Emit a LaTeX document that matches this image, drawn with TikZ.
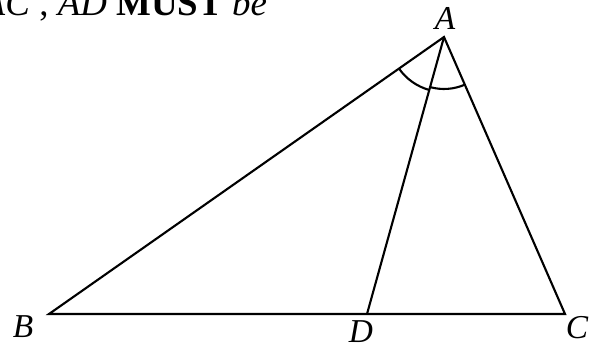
\documentclass[tikz,border=0pt]{standalone}
\usepackage{fontspec}
\setmainfont{Liberation Serif}
\begin{document}
\begin{tikzpicture}[x=0.02cm,y=-0.02cm,line width=1.2pt,
  lbl/.style={font=\fontsize{19}{22}\selectfont\itshape,inner sep=0}]
\clip (0,0) rectangle (594,349);
\node[anchor=base east,inner sep=0,font=\fontsize{21}{25}\selectfont] (txt) at (268,15) {\textit{BAC} , \textit{AD} \textbf{MUST} \textit{be}};
\coordinate (A) at (444,37);
\coordinate (B) at (49,314);
\coordinate (C) at (565,314);
\coordinate (D) at (367,314);
\draw (A) -- (B) -- (C) -- cycle;
\draw (A) -- (D);
\draw ([shift={(215:1.1cm)}]A) arc[start angle=215,end angle=254.5,radius=1.1cm];
\draw ([shift={(254.5:1.04cm)}]A) arc[start angle=254.5,end angle=293.6,radius=1.04cm];
\node[lbl] (lA) at (445,18) {A};
\node[lbl] (lB) at (23,327) {B};
\node[lbl] (lD) at (361,332) {D};
\node[lbl] (lC) at (577,328) {C};
\end{tikzpicture}
\end{document}
